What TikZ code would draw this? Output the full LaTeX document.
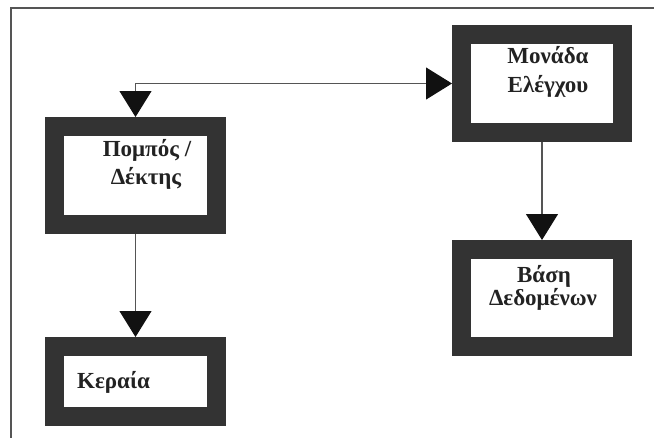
\documentclass[tikz,border=0pt]{standalone}
\usepackage{fontspec}
\setmainfont{Liberation Serif}
\usetikzlibrary{arrows.meta}
\definecolor{framegray}{HTML}{555555}
\definecolor{boxgray}{HTML}{333333}
\definecolor{tipblack}{HTML}{111111}
\definecolor{textgray}{HTML}{222222}
\tikzset{
  blockbox/.style={draw=boxgray, line width=19pt, fill=white, inner sep=0pt},
  blocktext/.style={font=\fontsize{23}{27}\selectfont\bfseries, text=textgray, inner sep=0pt, anchor=base},
  bigtip/.tip={Triangle[length=26pt, width=32pt, fill=tipblack, color=tipblack]},
  link/.style={draw=framegray, line width=1.1pt}
}
\begin{document}
\begin{tikzpicture}[x=1pt, y=-1pt]
  \useasboundingbox (0,0) rectangle (654,437);
  % outer frame (right and bottom edges run off the page)
  \begin{scope}
    \clip (0,0) rectangle (654,437);
    \draw[framegray, line width=1.8pt] (11,8) rectangle (670,450);
  \end{scope}

  % blocks
  \node[blockbox, minimum width=162pt, minimum height=98pt] (pompos) at (135.5,175.5) {};
  \node[blockbox, minimum width=161pt, minimum height=98pt] (monada) at (542,83.5) {};
  \node[blockbox, minimum width=162pt, minimum height=70pt] (keraia) at (135.5,381.5) {};
  \node[blockbox, minimum width=161pt, minimum height=97pt] (vasi) at (542,298) {};

  % labels
  \node[blocktext] (pomposA) at (147,156) {Πομπός /};
  \node[blocktext] (pomposB) at (146,184) {Δέκτης};
  \node[blocktext] (monadaA) at (548,63) {Μονάδα};
  \node[blocktext] (monadaB) at (548,92) {Ελέγχου};
  \node[blocktext] (vasiA) at (544,282) {Βάση};
  \node[blocktext] (vasiB) at (543,305) {Δεδομένων};
  \node[blocktext, anchor=base west] (keraiaA) at (77,388) {Κεραία};

  % connectors
  \coordinate (bend) at (pompos.north |- monada.west);
  \draw[link, bigtip-bigtip] (pompos.north) -- (bend) -- (monada.west);
  \draw[link, -bigtip] (monada.south) -- (vasi.north);
  \draw[link, -bigtip] (pompos.south) -- (keraia.north);
\end{tikzpicture}
\end{document}
